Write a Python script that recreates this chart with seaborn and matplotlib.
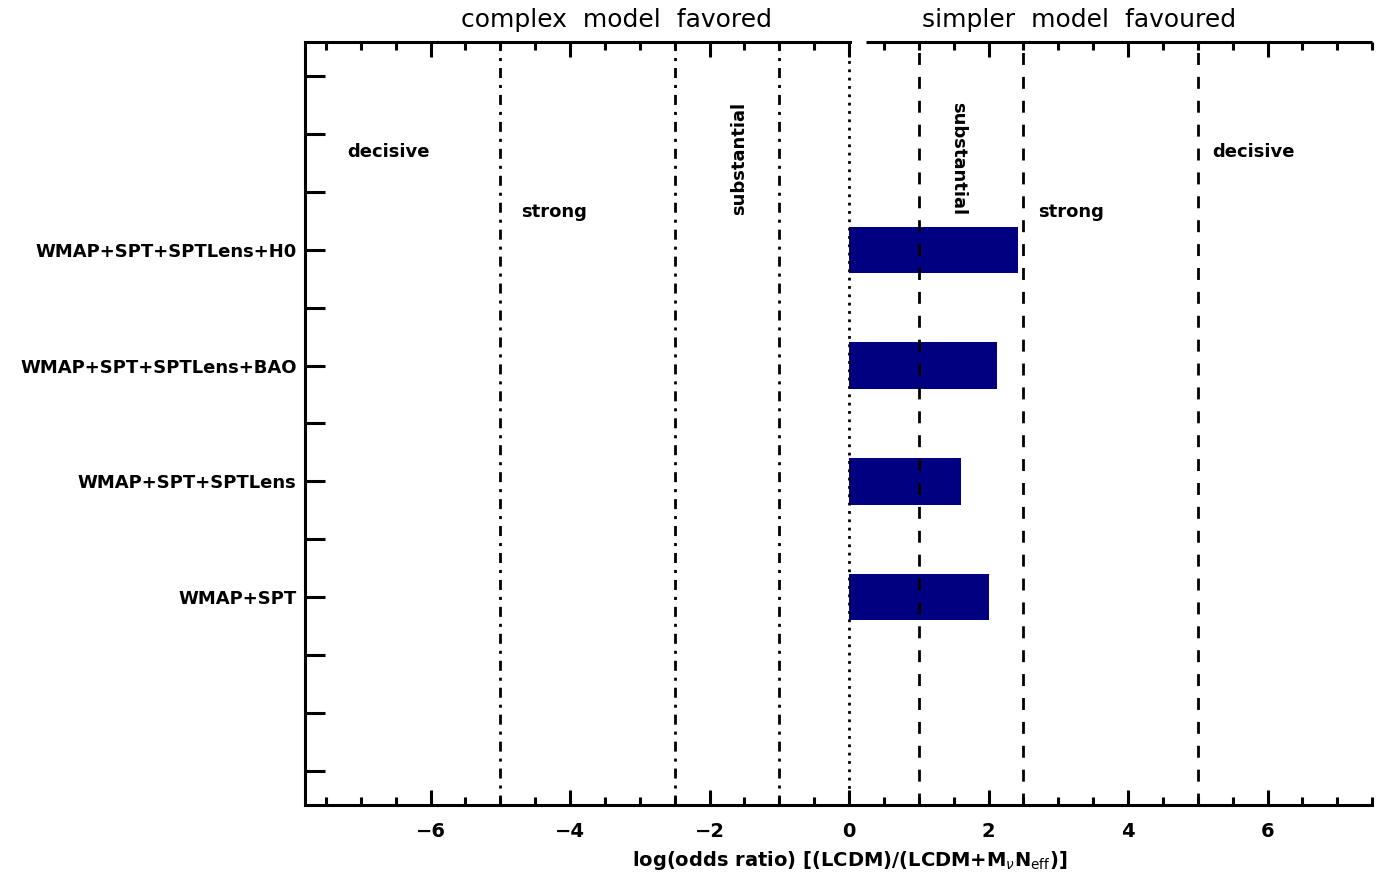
import numpy as np
import matplotlib
matplotlib.use('Agg')
import matplotlib.pyplot as plt
import seaborn as sns

# data
datasets = ['WMAP+SPT+SPTLens+H0', 'WMAP+SPT+SPTLens+BAO', 'WMAP+SPT+SPTLens', 'WMAP+SPT']
ypos = [10, 8, 6, 4]
log_odds = [2.42, 2.12, 1.61, 2.01]

# Jeffreys scale boundaries
complex_bounds = [-5, -2.5, -1]
simple_bounds = [1, 2.5, 5]

sns.set_style('ticks')
plt.rcParams['font.family'] = ['DejaVu Sans']
plt.rcParams.update({'text.color': 'black', 'axes.edgecolor': 'black',
                     'axes.labelcolor': 'black', 'xtick.color': 'black',
                     'ytick.color': 'black'})

fig = plt.figure(figsize=(13.77, 8.74), dpi=100)
ax = fig.add_axes([0.2215, 0.0789, 0.775, 0.8731])

sns.barplot(x=log_odds, y=ypos, orient='h', native_scale=True, width=0.4,
            color='#000080', saturation=1, errorbar=None, linewidth=0, ax=ax, zorder=1)

for b in complex_bounds:
    ax.axvline(b, color='black', lw=2, linestyle=(0, (3.6, 2.5, 1.1, 2.5)), zorder=3)
ax.axvline(0, color='black', lw=2, linestyle=(0, (1, 2)), zorder=3)
for b in simple_bounds:
    ax.axvline(b, color='black', lw=2, linestyle=(0, (4.3, 4.3)), zorder=3)

ax.set_xlim(-7.8, 7.5)
ax.set_ylim(0.41, 13.59)

ax.set_xticks(np.arange(-6, 7, 2))
ax.set_xticklabels(['\u22126', '\u22124', '\u22122', '0', '2', '4', '6'])
ax.set_xticks(np.arange(-7.5, 7.6, 0.5), minor=True)
ax.set_yticks(np.arange(1, 14))
ylabels = []
for t in np.arange(1, 14):
    ylabels.append(datasets[ypos.index(t)] if t in ypos else '')
ax.set_yticklabels(ylabels)

ax.tick_params(axis='x', which='major', direction='in', length=11, width=2.2,
               top=True, bottom=True, labelsize=14, pad=12)
ax.tick_params(axis='x', which='minor', direction='in', length=6, width=2.2,
               top=True, bottom=True)
ax.tick_params(axis='y', which='major', direction='in', length=14.5, width=2.2,
               left=True, right=False, labelsize=13, pad=6)
for lab in ax.get_xticklabels() + ax.get_yticklabels():
    lab.set_fontweight('bold')

for s in ['left', 'bottom', 'top']:
    ax.spines[s].set_linewidth(2.2)
ax.spines['right'].set_visible(False)
ax.spines['top'].set_bounds(-7.8, 0.02)
ax.plot([0.25, 7.5], [1, 1], color='black', lw=2.2, transform=ax.get_xaxis_transform(),
        clip_on=False, solid_capstyle='butt')

ax.set_ylabel('')
ax.set_xlabel(r'log(odds ratio) [(LCDM)/(LCDM+M$_{\nu}$N$_{\rm eff}$)]', fontsize=14,
              fontweight='bold')
ax.xaxis.set_label_coords(0.51, -0.058)

# region labels
kw = dict(fontsize=13, fontweight='bold', ha='center', va='center')
ax.text(-6.61, 11.69, 'decisive', **kw)
ax.text(-4.23, 10.65, 'strong', **kw)
ax.text(-1.57, 11.57, 'substantial', rotation=90, **kw)
ax.text(1.56, 11.58, 'substantial', rotation=270, **kw)
ax.text(3.18, 10.65, 'strong', **kw)
ax.text(5.80, 11.69, 'decisive', **kw)

trans = ax.get_xaxis_transform()
ax.text(-3.34, 1.029, 'complex  model  favored', transform=trans, fontsize=18,
        ha='center', va='center')
ax.text(3.30, 1.029, 'simpler  model  favoured', transform=trans, fontsize=18,
        ha='center', va='center')

fig.savefig('out.png', dpi=100)
